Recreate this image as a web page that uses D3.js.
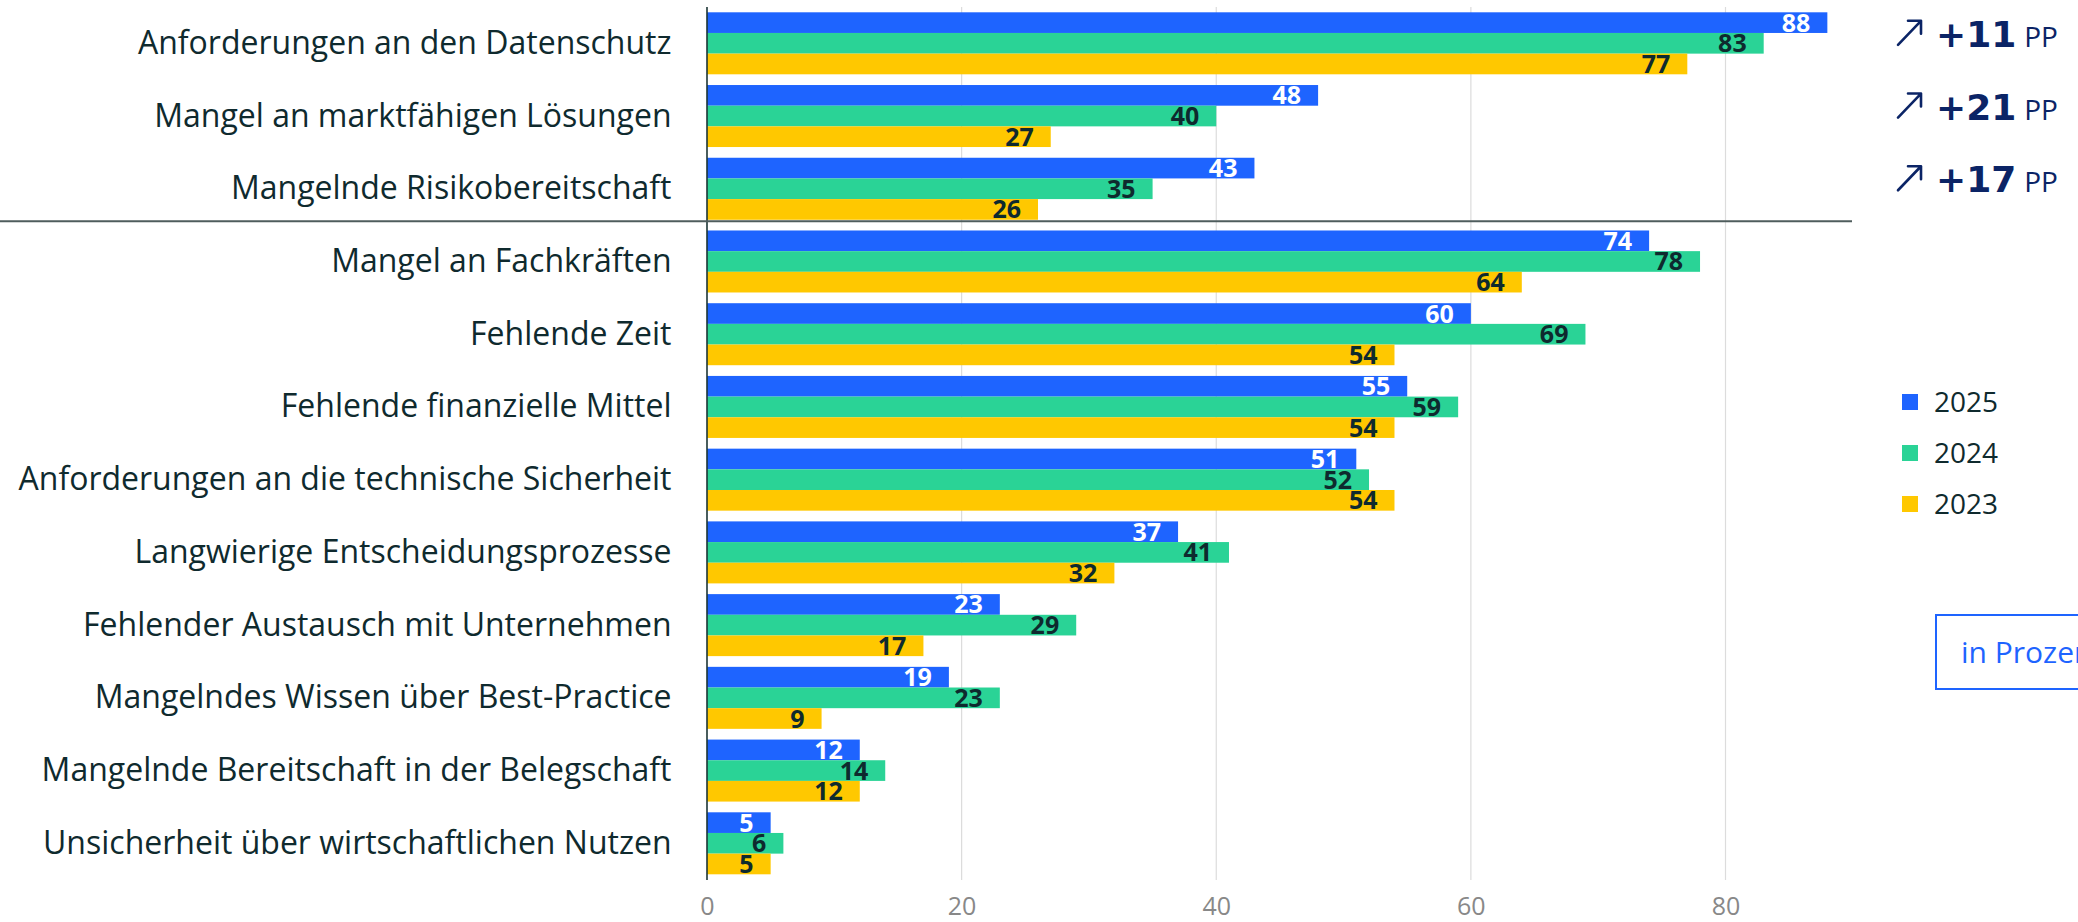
<!DOCTYPE html>
<html>
<head>
<meta charset="utf-8">
<script src="https://cdn.jsdelivr.net/npm/d3@7/dist/d3.min.js"></script>
<style>
  html, body { margin: 0; padding: 0; background: #ffffff; }
  svg { display: block; font-family: "Open Sans", "Noto Sans", sans-serif; }
</style>
</head>
<body>
<svg id="chart" width="2078" height="922"></svg>
<script>
// ---------------- data ----------------
const categories = [
  "Anforderungen an den Datenschutz",
  "Mangel an marktfähigen Lösungen",
  "Mangelnde Risikobereitschaft",
  "Mangel an Fachkräften",
  "Fehlende Zeit",
  "Fehlende finanzielle Mittel",
  "Anforderungen an die technische Sicherheit",
  "Langwierige Entscheidungsprozesse",
  "Fehlender Austausch mit Unternehmen",
  "Mangelndes Wissen über Best-Practice",
  "Mangelnde Bereitschaft in der Belegschaft",
  "Unsicherheit über wirtschaftlichen Nutzen"
];
const seriesNames = ["2025", "2024", "2023"];
const values2025 = [88, 48, 43, 74, 60, 55, 51, 37, 23, 19, 12, 5];
const values2024 = [83, 40, 35, 78, 69, 59, 52, 41, 29, 23, 14, 6];
const values2023 = [77, 27, 26, 64, 54, 54, 54, 32, 17, 9, 12, 5];
const deltaCategories = ["Anforderungen an den Datenschutz", "Mangel an marktfähigen Lösungen", "Mangelnde Risikobereitschaft"];
const deltaValues = ["+11", "+21", "+17"];
const deltaUnit = "PP";
const xTicks = [0, 20, 40, 60, 80];
const unitLabel = "in Prozent";

const colors = { "2025": "#1e64ff", "2024": "#2ad396", "2023": "#ffc800" };
const labelColors = { "2025": "#ffffff", "2024": "#0e2a2e", "2023": "#0e2a2e" };
const seriesValues = { "2025": values2025, "2024": values2024, "2023": values2023 };

// ---------------- layout ----------------
const svg = d3.select("#chart");
const x = d3.scaleLinear().domain([0, 80]).range([707, 1725.5]);
const y = d3.scaleBand().domain(categories).range([12.3, 874.3]).paddingInner(0.1475).paddingOuter(0);
const ySub = d3.scaleBand().domain(seriesNames).range([0, y.bandwidth()]).padding(0);

// gridlines
svg.append("g").selectAll("line").data(xTicks.filter(t => t > 0)).join("line")
  .attr("x1", d => x(d)).attr("x2", d => x(d))
  .attr("y1", 7).attr("y2", 880)
  .attr("stroke", "#dcdcdc").attr("stroke-width", 1.2);

// x axis tick labels
const xAxis = d3.axisBottom(x).tickValues(xTicks).tickSize(0).tickPadding(0).tickFormat(d3.format("d"));
const gx = svg.append("g").attr("transform", "translate(0,897)").call(xAxis);
gx.select(".domain").remove();
gx.selectAll("text")
  .style("font-family", "'Open Sans', sans-serif")
  .style("font-size", "25px").attr("fill", "#888888").attr("dy", "0.71em");

// bars
const rows = categories.map((c, i) => ({ cat: c, vals: seriesNames.map(s => ({ s, v: seriesValues[s][i] })) }));
const groups = svg.append("g").selectAll("g").data(rows).join("g")
  .attr("transform", d => `translate(0,${y(d.cat)})`);
groups.selectAll("rect").data(d => d.vals).join("rect")
  .attr("x", x(0)).attr("y", d => ySub(d.s))
  .attr("width", d => x(d.v) - x(0)).attr("height", ySub.bandwidth())
  .attr("fill", d => colors[d.s]);
groups.selectAll("text.val").data(d => d.vals).join("text").attr("class", "val")
  .attr("x", d => x(d.v) - 17)
  .attr("y", d => ySub(d.s) + ySub.bandwidth() / 2)
  .attr("dy", "0.36em")
  .attr("text-anchor", "end")
  .style("font-size", "25px").style("font-weight", 700)
  .attr("fill", d => labelColors[d.s])
  .text(d => d.v);

// category labels
svg.append("g").selectAll("text").data(categories).join("text")
  .attr("x", 671.5).attr("y", d => y(d) + y.bandwidth() / 2)
  .attr("dy", "0.33em").attr("text-anchor", "end")
  .style("font-size", "32px").attr("fill", "#0f2a2e")
  .text(d => d);

// axis line
svg.append("line").attr("x1", x(0)).attr("x2", x(0)).attr("y1", 7).attr("y2", 880)
  .attr("stroke", "#1c3535").attr("stroke-width", 1.6);

// separator line between groups
const sepY = y(categories[2]) + y.bandwidth() + 1.5;
svg.append("line").attr("x1", 0).attr("x2", 1852).attr("y1", sepY).attr("y2", sepY)
  .attr("stroke", "#4f5d5d").attr("stroke-width", 1.8);

// delta annotations
const navy = "#0b2466";
deltaCategories.forEach((c, i) => {
  const by = y(c) + y.bandwidth() / 2 + 3.5;
  // thin arrow
  svg.append("path")
    .attr("d", `M1898,${by - 2} L1921,${by - 26} M1908,${by - 26} L1921,${by - 26} L1921,${by - 13}`)
    .attr("fill", "none").attr("stroke", navy).attr("stroke-width", 2.6)
    .attr("stroke-linecap", "round").attr("stroke-linejoin", "round");
  const num = svg.append("text").attr("x", 1936).attr("y", by)
    .style("font-family", "'DejaVu Sans', sans-serif")
    .style("font-size", "36px").style("font-weight", 700).attr("fill", navy)
    .text(deltaValues[i]);
  const w = num.node().getComputedTextLength();
  svg.append("text").attr("x", 1936 + w + 8).attr("y", by)
    .style("font-size", "28px").attr("fill", navy).text(deltaUnit);
});

// legend
const legend = svg.append("g").selectAll("g").data(seriesNames).join("g")
  .attr("transform", (d, i) => `translate(1902,${394 + i * 51})`);
legend.append("rect").attr("width", 16).attr("height", 16).attr("fill", d => colors[d]);
legend.append("text").attr("x", 32).attr("y", 8).attr("dy", "0.36em")
  .style("font-size", "28px").attr("fill", "#0f2a2e").text(d => d);

// unit box
svg.append("rect").attr("x", 1936).attr("y", 615).attr("width", 220).attr("height", 74)
  .attr("fill", "none").attr("stroke", "#1e64ff").attr("stroke-width", 2);
svg.append("text").attr("x", 1961).attr("y", 663)
  .style("font-size", "30px").attr("fill", "#1e64ff").text(unitLabel);
</script>
</body>
</html>
